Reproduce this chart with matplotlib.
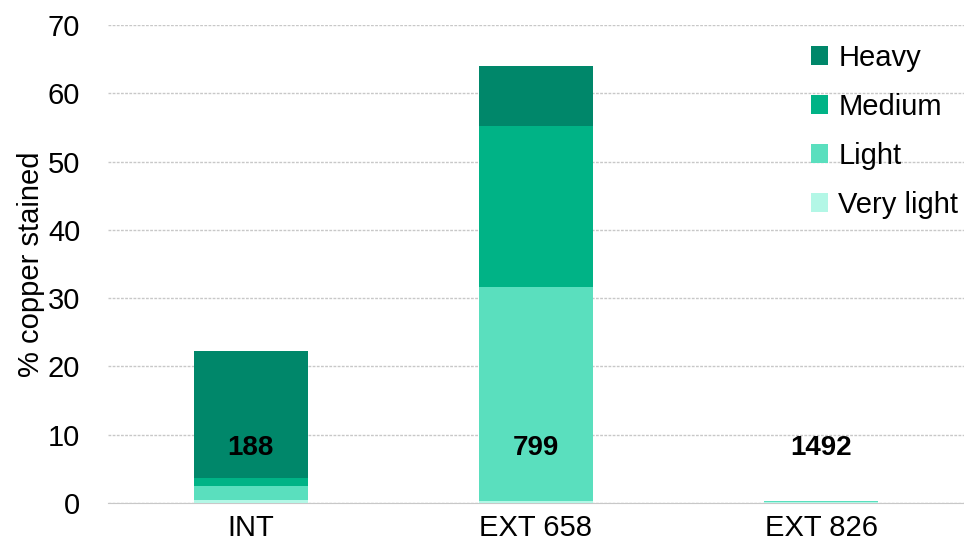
import matplotlib

matplotlib.use("Agg")
import matplotlib.pyplot as plt
import numpy as np

plt.rcParams["font.family"] = ["Liberation Sans", "DejaVu Sans"]

categories = ["INT", "EXT 658", "EXT 826"]
counts = ["188", "799", "1492"]
very_light = [0.4, 0.3, 0.1]
light = [2.1, 31.3, 0.25]
medium = [1.2, 23.6, 0.0]
heavy = [18.6, 8.8, 0.0]

series = [
    ("Very light", very_light, "#b3f7e6"),
    ("Light", light, "#5adfbe"),
    ("Medium", medium, "#00b386"),
    ("Heavy", heavy, "#00876a"),
]

fig = plt.figure(figsize=(9.64, 5.54), dpi=100)
ax = fig.add_axes([0.112, 0.092, 0.888, 0.863])

x = np.arange(len(categories))
bottom = np.zeros(len(categories))
handles = {}
for name, vals, color in series:
    b = ax.bar(x, vals, 0.4, bottom=bottom, color=color, label=name, zorder=3)
    handles[name] = b
    bottom += np.array(vals)

for xi, c in zip(x, counts):
    ax.text(xi, 8, c, ha="center", va="center", fontsize=20, fontweight="bold", zorder=4)

ax.set_xlim(-0.5, 2.5)
ax.set_ylim(0, 70)
ax.set_yticks(np.arange(0, 71, 10))
ax.set_xticks(x)
ax.set_xticklabels(categories)
ax.tick_params(axis="both", length=0, labelsize=21, colors="black")
ax.tick_params(axis="y", pad=20)
ax.tick_params(axis="x", pad=8)
ax.grid(True, axis="y", color="#c8c8c8", lw=1, ls=(0, (2, 1)), zorder=0)
for s in ["top", "right", "left"]:
    ax.spines[s].set_visible(False)
ax.spines["bottom"].set_color("#c8c8c8")
ax.set_ylabel("% copper stained", fontsize=21, labelpad=2)

order = ["Heavy", "Medium", "Light", "Very light"]
ax.legend([handles[n] for n in order], order, loc="upper right",
          bbox_to_anchor=(1.024, 1.015), frameon=False, fontsize=21,
          handlelength=0.6, handleheight=0.6, handletextpad=0.35, labelspacing=0.72)

fig.savefig("out.png", dpi=100)
